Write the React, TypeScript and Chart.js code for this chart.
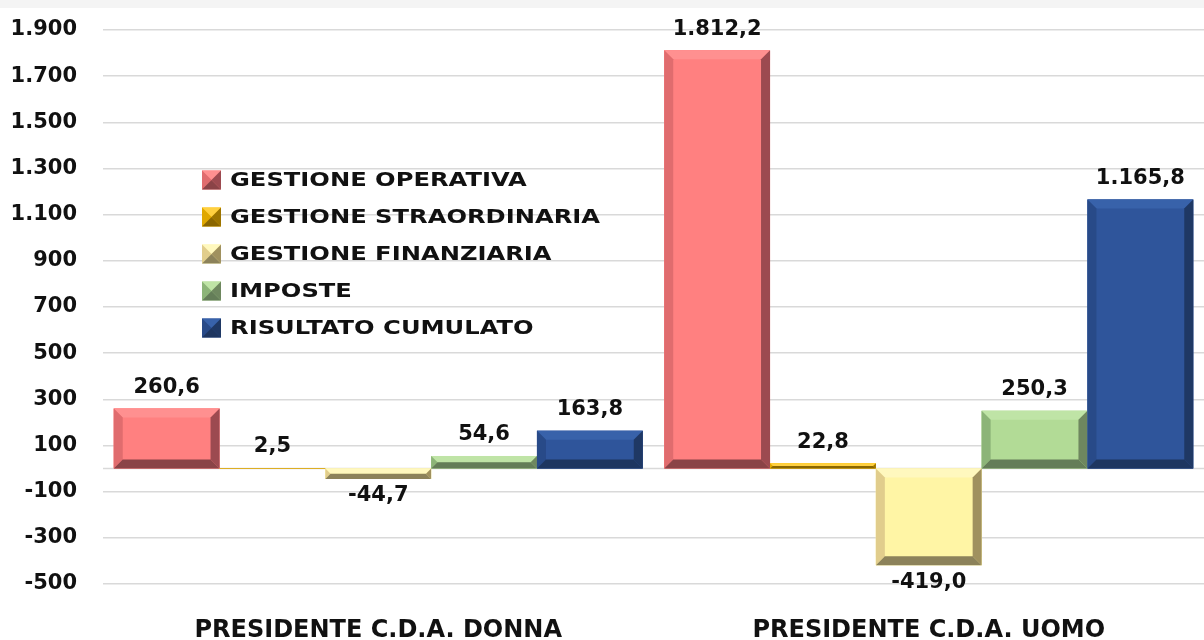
import React, { useEffect, useRef } from "react";
import { Chart, registerables } from "chart.js";
Chart.register(...registerables);

const categories = ["PRESIDENTE C.D.A. DONNA", "PRESIDENTE C.D.A. UOMO"];
const seriesNames = [
  "GESTIONE OPERATIVA",
  "GESTIONE STRAORDINARIA",
  "GESTIONE FINANZIARIA",
  "IMPOSTE",
  "RISULTATO CUMULATO",
];
const gestioneOperativa = [260.6, 1812.2];
const gestioneStraordinaria = [2.5, 22.8];
const gestioneFinanziaria = [-44.7, -419.0];
const imposte = [54.6, 250.3];
const risultatoCumulato = [163.8, 1165.8];
const yMin = -500;
const yMax = 1900;
const yStep = 200;

type Pal = { fill: string; top: string; left: string; right: string; bottom: string };
const palettes: Pal[] = [
  { fill: "#FF8080", top: "#FF9090", left: "#E06C6E", right: "#9C4A50", bottom: "#8A4347" },
  { fill: "#FFC000", top: "#FFD040", left: "#E0A800", right: "#9C7400", bottom: "#8A6600" },
  { fill: "#FFF5A5", top: "#FFF8BE", left: "#E1CD8C", right: "#A0915F", bottom: "#8C825A" },
  { fill: "#B2DB96", top: "#BFE4A6", left: "#8CB478", right: "#6E875F", bottom: "#647D58" },
  { fill: "#2F559B", top: "#3862AA", left: "#284A88", right: "#1F3864", bottom: "#1E3660" },
];

const FONT = '"DejaVu Sans", "Open Sans", sans-serif';

function fmt(v: number, dec: number): string {
  const neg = v < 0;
  const fixed = Math.abs(v).toFixed(dec);
  const parts = fixed.split(".");
  const intPart = parts[0].replace(/\B(?=(\d{3})+(?!\d))/g, ".");
  return (neg ? "-" : "") + intPart + (parts[1] ? "," + parts[1] : "");
}

function poly(ctx: CanvasRenderingContext2D, pts: number[][], color: string) {
  ctx.beginPath();
  ctx.moveTo(pts[0][0], pts[0][1]);
  for (let i = 1; i < pts.length; i++) ctx.lineTo(pts[i][0], pts[i][1]);
  ctx.closePath();
  ctx.fillStyle = color;
  ctx.fill();
}

function drawBevel(ctx: CanvasRenderingContext2D, L: number, T: number, R: number, B: number, p: Pal, maxB: number) {
  const w = R - L;
  const h = B - T;
  ctx.fillStyle = p.fill;
  ctx.fillRect(L, T, w, h);
  const b = Math.max(0, Math.min(maxB, h / 2, w / 2));
  if (b <= 0) return;
  poly(ctx, [[L, T], [R, T], [R - b, T + b], [L + b, T + b]], p.top);
  poly(ctx, [[L, T], [L + b, T + b], [L + b, B - b], [L, B]], p.left);
  poly(ctx, [[R, T], [R, B], [R - b, B - b], [R - b, T + b]], p.right);
  poly(ctx, [[L, B], [R, B], [R - b, B - b], [L + b, B - b]], p.bottom);
}

const backgroundPlugin = {
  id: "bg",
  beforeDraw(chart: any) {
    const ctx = chart.ctx;
    ctx.save();
    ctx.fillStyle = "#FFFFFF";
    ctx.fillRect(0, 0, chart.width, chart.height);
    ctx.fillStyle = "#F4F4F4";
    ctx.fillRect(0, 0, chart.width, 8);
    ctx.restore();
  },
};

const zeroLinePlugin = {
  id: "zeroLine",
  beforeDatasetsDraw(chart: any) {
    const ctx = chart.ctx;
    const y = chart.scales.y.getPixelForValue(0);
    ctx.save();
    ctx.strokeStyle = "#D9D9D9";
    ctx.lineWidth = 1.5;
    ctx.beginPath();
    ctx.moveTo(chart.chartArea.left, y);
    ctx.lineTo(chart.chartArea.right, y);
    ctx.stroke();
    ctx.restore();
  },
};

const bevelPlugin = {
  id: "bevel",
  afterDatasetsDraw(chart: any) {
    const ctx = chart.ctx;
    ctx.save();
    chart.data.datasets.forEach((ds: any, di: number) => {
      const meta = chart.getDatasetMeta(di);
      meta.data.forEach((el: any, i: number) => {
        const L = el.x - el.width / 2;
        const R = el.x + el.width / 2;
        const T = Math.min(el.y, el.base);
        const B = Math.max(el.y, el.base);
        drawBevel(ctx, L, T, R, B, palettes[di], 9);
        const v = ds.data[i];
        ctx.font = `bold 21px ${FONT}`;
        ctx.fillStyle = "#111111";
        ctx.textAlign = "center";
        ctx.textBaseline = "middle";
        const ty = v >= 0 ? T - 21 : B + 17;
        ctx.fillText(fmt(v, 1), el.x, ty);
      });
    });
    ctx.restore();
  },
};

const legendPlugin = {
  id: "customLegend",
  afterDraw(chart: any) {
    const ctx = chart.ctx;
    const sqX = 202;
    const sqSize = 19;
    const textX = 230;
    const y0 = 180;
    const dy = 37;
    chart.data.datasets.forEach((ds: any, di: number) => {
      const cy = y0 + di * dy;
      ctx.save();
      drawBevel(ctx, sqX, cy - sqSize / 2, sqX + sqSize, cy + sqSize / 2, palettes[di], sqSize / 2);
      ctx.font = `bold 20px ${FONT}`;
      ctx.fillStyle = "#111111";
      ctx.textAlign = "left";
      ctx.textBaseline = "middle";
      ctx.translate(textX, cy + 1);
      ctx.scale(1.21, 1);
      ctx.fillText(ds.label, 0, 0);
      ctx.restore();
    });
  },
};

export default function App() {
  const ref = useRef<HTMLCanvasElement | null>(null);
  useEffect(() => {
    if (!ref.current) return;
    const seriesValues = [gestioneOperativa, gestioneStraordinaria, gestioneFinanziaria, imposte, risultatoCumulato];
    const chart = new Chart(ref.current, {
      type: "bar",
      data: {
        labels: categories,
        datasets: seriesNames.map((name, i) => ({
          label: name,
          data: seriesValues[i],
          backgroundColor: palettes[i].fill,
          borderWidth: 0,
          barPercentage: 1,
          categoryPercentage: 0.961,
        })),
      },
      options: {
        animation: false,
        responsive: true,
        maintainAspectRatio: false,
        layout: { padding: { top: 30, left: 0, right: 0, bottom: 0 } },
        plugins: { legend: { display: false }, tooltip: { enabled: false } },
        scales: {
          x: {
            grid: { display: false, drawTicks: false },
            border: { display: false },
            ticks: {
              padding: 32,
              color: "#111111",
              font: { family: FONT, weight: "bold", size: 24 },
            },
            afterFit: (s: any) => {
              s.height = 56;
            },
          },
          y: {
            min: yMin,
            max: yMax,
            grid: { color: "#D9D9D9", lineWidth: 1.5, drawTicks: false },
            border: { display: false },
            ticks: {
              stepSize: yStep,
              padding: 26,
              color: "#111111",
              font: { family: FONT, weight: "bold", size: 21 },
              callback: (v: any) => fmt(Number(v), 0),
            },
            afterFit: (s: any) => {
              s.width = 103;
              s.paddingTop = 0;
              s.paddingBottom = 0;
            },
          },
        },
      } as any,
      plugins: [backgroundPlugin, zeroLinePlugin, bevelPlugin, legendPlugin],
    });
    return () => chart.destroy();
  }, []);
  return (
    <div style={{ position: "absolute", left: 0, top: 0, width: 1204, height: 640 }}>
      <canvas ref={ref} />
    </div>
  );
}
